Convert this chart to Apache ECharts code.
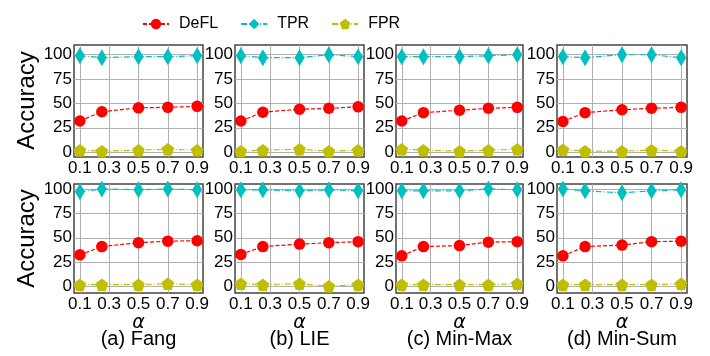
<!DOCTYPE html>
<html>
<head>
<meta charset="utf-8">
<script src="https://cdn.jsdelivr.net/npm/echarts@6/dist/echarts.min.js"></script>
<style>
html,body{margin:0;padding:0;background:#fff;}
#chart{width:710px;height:356px;}
</style>
</head>
<body>
<div id="chart"></div>
<script>
// ---- data ----
const alphaValues = [0.1, 0.25, 0.5, 0.7, 0.9];
const xTickValues = [0.1, 0.3, 0.5, 0.7, 0.9];
const yTickValues = [0, 25, 50, 75, 100];
const seriesNames = ['DeFL', 'TPR', 'FPR'];
const panelTitles = ['(a) Fang', '(b) LIE', '(c) Min-Max', '(d) Min-Sum'];

// top row: Fang, LIE, Min-Max, Min-Sum
const deflTop = [
  [32, 41.5, 45.5, 46, 47],
  [32, 41, 44, 45, 46.5],
  [32, 40.5, 43, 45, 46],
  [31.5, 40.5, 43.5, 45, 46]
];
const tprTop = [
  [99, 97, 98, 98, 99],
  [99, 97, 97, 100, 98],
  [98, 98, 98, 99, 100],
  [98, 97, 100, 100, 97]
];
const fprTop = [
  [2, 1, 2, 3, 2],
  [1, 2, 3, 1, 2],
  [3, 2, 1, 2, 3],
  [2.5, 1, 1, 2, 1]
];
// bottom row
const deflBottom = [
  [32.5, 41, 45, 46.5, 47],
  [33, 41, 43.5, 45, 46],
  [31.5, 41, 42, 45.5, 46],
  [31.5, 41, 42.5, 46, 46.5]
];
const tprBottom = [
  [97, 100, 99, 100, 99],
  [99, 99, 98, 99, 98],
  [98, 98, 98, 100, 99],
  [100, 98, 96, 98, 99]
];
const fprBottom = [
  [2, 2, 2, 3, 2],
  [3, 2, 3, 0.5, 2],
  [2, 2, 2, 2, 3],
  [2, 2, 2, 2, 3]
];

// ---- layout / style ----
const gridLefts = [74, 235, 396, 557];
const gridWidths = [129, 129, 127, 130];
const rowTops = [45, 184];
const rowHeights = [112, 109];
const rowYMin = [-5, -6.5];
const rowYMax = [110, 105];
const FONT = "'Liberation Sans', Arial, sans-serif";
const colors = ['#ff0000', '#00bfbf', '#bfbf00'];
const pentagon = 'path://M0,-1 L0.951,-0.309 L0.588,0.809 L-0.588,0.809 L-0.951,-0.309 Z';

const grids = [], xAxes = [], yAxes = [], series = [], graphics = [];

for (let r = 0; r < 2; r++) {
  const dsets = r === 0 ? [deflTop, tprTop, fprTop] : [deflBottom, tprBottom, fprBottom];
  for (let c = 0; c < 4; c++) {
    const idx = r * 4 + c;
    grids.push({
      left: gridLefts[c], top: rowTops[r], width: gridWidths[c], height: rowHeights[r],
      show: true, borderColor: '#444', borderWidth: 1.5, backgroundColor: 'transparent'
    });
    xAxes.push({
      type: 'value', gridIndex: idx, min: 0.06, max: 0.94,
      axisLine: { show: false },
      axisTick: { show: false, customValues: xTickValues },
      axisLabel: {
        customValues: xTickValues, color: '#000', fontSize: 17, fontFamily: FONT, margin: 3,
        formatter: v => v.toFixed(1)
      },
      splitLine: { show: true, lineStyle: { color: '#b0b0b0', width: 1 } },
      name: r === 1 ? 'α' : '', nameLocation: 'middle', nameGap: 16,
      nameTextStyle: { fontSize: 19, fontStyle: 'italic', fontFamily: "'DejaVu Sans', sans-serif", color: '#000' }
    });
    yAxes.push({
      type: 'value', gridIndex: idx, min: rowYMin[r], max: rowYMax[r],
      axisLine: { show: false },
      axisTick: { show: false, customValues: yTickValues },
      axisLabel: { customValues: yTickValues, color: '#000', fontSize: 17, fontFamily: FONT, margin: 2 },
      splitLine: { show: true, lineStyle: { color: '#b0b0b0', width: 1 } }
    });
    const styles = [
      { symbol: 'circle', symbolSize: 11.5, type: [4, 2] },
      { symbol: 'diamond', symbolSize: [10, 17], type: [6, 2, 1, 2] },
      { symbol: pentagon, symbolSize: 12.5, type: [6, 2, 1, 2] }
    ];
    for (let s = 0; s < 3; s++) {
      series.push({
        type: 'line', name: seriesNames[s], xAxisIndex: idx, yAxisIndex: idx,
        data: alphaValues.map((a, i) => [a, dsets[s][c][i]]),
        symbol: styles[s].symbol, symbolSize: styles[s].symbolSize,
        lineStyle: { color: colors[s], width: 1.2, type: styles[s].type },
        itemStyle: { color: colors[s] },
        animation: false, z: 3
      });
    }
  }
}

// rotated y-axis titles
[100.5, 238.5].forEach(cy => {
  graphics.push({
    type: 'text', x: 27, y: cy, rotation: Math.PI / 2,
    style: { text: 'Accuracy', fontSize: 24, fontFamily: FONT, fill: '#000', align: 'center', verticalAlign: 'middle' }
  });
});
// panel captions
for (let c = 0; c < 4; c++) {
  graphics.push({
    type: 'text', x: gridLefts[c] + gridWidths[c] / 2, y: 339,
    style: { text: panelTitles[c], fontSize: 20, fontFamily: FONT, fill: '#000', align: 'center', verticalAlign: 'middle' }
  });
}

const chart = echarts.init(document.getElementById('chart'), null, { renderer: 'canvas' });
chart.setOption({
  animation: false,
  backgroundColor: '#fff',
  legend: {
    data: seriesNames, left: 137, top: 11, itemWidth: 26, itemHeight: 13, itemGap: 22,
    textStyle: { fontSize: 16, fontFamily: FONT, color: '#000', padding: [0, 0, 0, 5] }
  },
  grid: grids, xAxis: xAxes, yAxis: yAxes, series: series, graphic: graphics
});
</script>
</body>
</html>
